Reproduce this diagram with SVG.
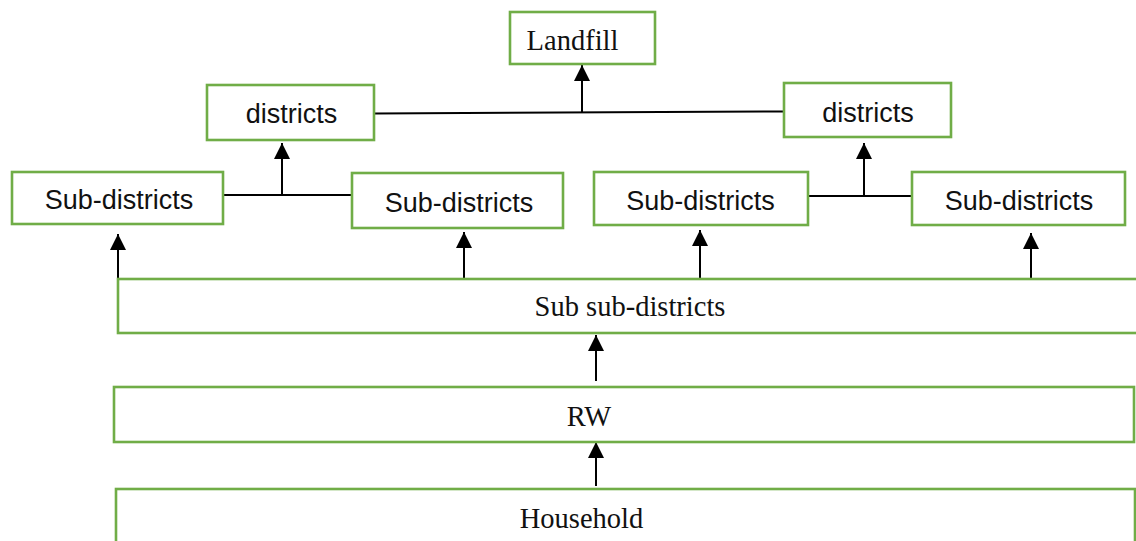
<svg xmlns="http://www.w3.org/2000/svg" width="1136" height="541" viewBox="0 0 1136 541">
<style>
.box{fill:#fff;stroke:#70AD47;stroke-width:2.6}
.serif{font-family:"Liberation Serif","Times New Roman",serif;font-size:28.5px;fill:#111;text-anchor:middle}
.sans{font-family:"Liberation Sans",Arial,sans-serif;font-size:27px;fill:#111;text-anchor:middle}
.ln{stroke:#000;stroke-width:2;fill:none}
.arr{stroke:#000;stroke-width:2;fill:none;marker-end:url(#ah)}
</style>
<defs>
<marker id="ah" markerUnits="userSpaceOnUse" markerWidth="16" markerHeight="16" refX="15" refY="7.5" orient="auto" viewBox="0 0 15 15">
<path d="M0,0 L15,7.5 L0,15 z" fill="#000"/>
</marker>
</defs>
<rect width="1136" height="541" fill="#fff"/>
<g id="connectors">
<line class="ln" x1="375" y1="113.5" x2="784" y2="111.5"/>
<line class="arr" x1="582" y1="113" x2="582" y2="65"/>
<line class="ln" x1="224" y1="195" x2="352" y2="195"/>
<line class="arr" x1="282" y1="195" x2="282" y2="143"/>
<line class="ln" x1="808" y1="196" x2="912" y2="196"/>
<line class="arr" x1="864" y1="196" x2="864" y2="143"/>
<line class="arr" x1="118" y1="279" x2="118" y2="234"/>
<line class="arr" x1="464" y1="279" x2="464" y2="232"/>
<line class="arr" x1="700" y1="279" x2="700" y2="230"/>
<line class="arr" x1="1031" y1="279" x2="1031" y2="233"/>
<line class="arr" x1="596" y1="381" x2="596" y2="335"/>
<line class="arr" x1="596" y1="486" x2="596" y2="442"/>
</g>
<g id="landfill">
<rect class="box" x="510" y="12" width="145" height="52"/>
<text class="serif" x="572.5" y="50">Landfill</text>
</g>
<g id="districts-left">
<rect class="box" x="207" y="85" width="167" height="55"/>
<text class="sans" x="291.5" y="123">districts</text>
</g>
<g id="districts-right">
<rect class="box" x="784" y="83" width="167" height="54"/>
<text class="sans" x="868" y="122">districts</text>
</g>
<g id="subdistricts-1">
<rect class="box" x="12" y="172" width="211" height="52"/>
<text class="sans" x="119" y="209">Sub-districts</text>
</g>
<g id="subdistricts-2">
<rect class="box" x="352" y="173" width="211" height="55"/>
<text class="sans" x="459" y="212">Sub-districts</text>
</g>
<g id="subdistricts-3">
<rect class="box" x="594" y="172" width="214" height="53"/>
<text class="sans" x="700.5" y="210">Sub-districts</text>
</g>
<g id="subdistricts-4">
<rect class="box" x="912" y="172" width="213" height="53"/>
<text class="sans" x="1019" y="210">Sub-districts</text>
</g>
<g id="subsubdistricts">
<rect class="box" x="118" y="279" width="1030" height="54"/>
<text class="serif" x="630" y="316">Sub sub-districts</text>
</g>
<g id="rw">
<rect class="box" x="114" y="387" width="1020" height="55"/>
<text class="serif" x="589" y="426">RW</text>
</g>
<g id="household">
<rect class="box" x="116" y="489" width="1019" height="70"/>
<text class="serif" x="581.5" y="528">Household</text>
</g>
</svg>
